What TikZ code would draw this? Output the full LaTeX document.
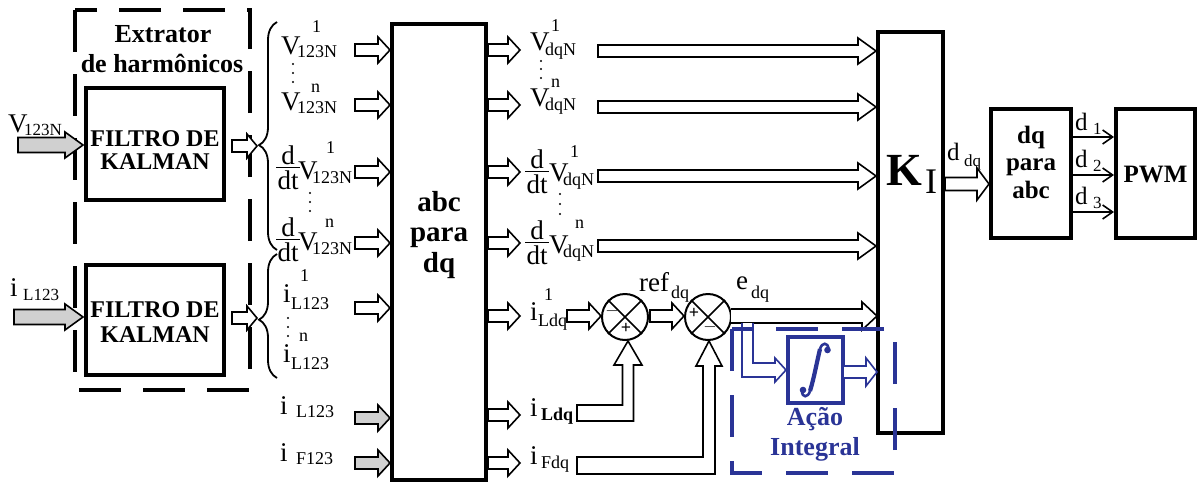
\documentclass[tikz,border=0pt]{standalone}
\usepackage{fontspec}
\setmainfont{Liberation Serif}
\usetikzlibrary{decorations.pathreplacing,arrows.meta}
\definecolor{ablue}{RGB}{42,52,150}
\definecolor{agray}{RGB}{208,208,208}
\newcommand\fs[1]{\fontsize{#1}{#1}\selectfont}
\newcommand\harr[7]{\draw[#1] (#2,#4-#5) -- (#3-#7,#4-#5) -- (#3-#7,#4-#6) -- (#3,#4) -- (#3-#7,#4+#6) -- (#3-#7,#4+#5) -- (#2,#4+#5) -- cycle;}
\newcommand\sarr[4][barrow]{\harr{#1}{#2}{#3}{#4}{6}{13}{12}}
\newcommand\larr[3]{\harr{barrow}{#1}{#2}{#3}{6}{13}{18}}
\newcommand\vdotsat[4]{\fill (#1,#2) circle (1.2); \fill (#1,#3) circle (1.2); \fill (#1,#4) circle (1.2);}
\begin{document}
\begin{tikzpicture}[x=1pt,y=-1pt,
 lbl/.style={font=\fs{27},inner sep=0,anchor=base west},
 sb/.style={font=\fs{18},inner sep=0,anchor=base west},
 cl/.style={font=\fs{27},inner sep=0,anchor=base},
 box/.style={draw, line width=4, fill=white, inner sep=0},
 bt/.style={font=\bfseries\fs{26},inner sep=0,anchor=base},
 btk/.style={font=\bfseries\fs{24},inner sep=0,anchor=base},
 barrow/.style={draw, line width=1.6, fill=white, line join=miter},
 garrow/.style={barrow, fill=agray},
 bluearrow/.style={draw=ablue, line width=1.6, fill=white, line join=miter},
 ext/.style={draw, line width=3.5, dash pattern=on 42pt off 22pt},
 brc/.style={line width=1.8, decorate},
 darr/.style={line width=1.6, -{Straight Barb[length=10pt,width=14pt]}},
]
\useasboundingbox (0,0) rectangle (1197,485);

% ---- harmonic extractor ----
\draw[ext] (75,10) rectangle (250,390);
\node[bt] (ext1) at (163,42) {Extrator};
\node[bt] (ext2) at (162,72) {de harmônicos};

\node[box, minimum width=138, minimum height=112] (kf1) at (155,144) {};
\node[btk] (kf1a) at (155,146) {FILTRO DE};
\node[btk] (kf1b) at (155,169) {KALMAN};
\node[box, minimum width=138, minimum height=110] (kf2) at (155,320) {};
\node[btk] (kf2a) at (155,317) {FILTRO DE};
\node[btk] (kf2b) at (155,342) {KALMAN};

% inputs
\node[lbl] (vin) at (8,132) {V};
\node[sb,font=\fs{17}] (vins) at (24,135) {123N};
\harr{garrow}{18}{83}{145}{7.5}{13}{18}
\node[lbl] (iin) at (10,296) {i};
\node[sb,font=\fs{17}] (iins) at (23,300) {L123};
\harr{garrow}{14}{83}{317}{7.5}{13}{18}

% filter outputs
\harr{barrow}{232}{257}{146}{6}{12}{10}
\harr{barrow}{232}{257}{318}{6}{12}{10}

% braces
\draw[brc, decoration={brace, amplitude=18pt, aspect=0.46}] (277,250) -- (277,22);
\draw[brc, decoration={brace, amplitude=18pt, aspect=0.47}] (277,378) -- (277,254);

% ---- left column labels ----
\node[lbl] (a1) at (281,54) {V};
\node[sb] (a1s) at (297,57) {123N};
\node[sb] (a1p) at (312,32) {1};
\vdotsat{293}{64}{73}{82}
\node[lbl] (a2) at (281,110) {V};
\node[sb] (a2s) at (297,113) {123N};
\node[sb] (a2p) at (311,92) {n};

\node[cl] (a3n) at (288,164) {d};
\node[cl] (a3d) at (288,189) {dt};
\draw[line width=0.9] (276,167) -- (300,167);
\node[lbl] (a3) at (298,179) {V};
\node[sb] (a3s) at (312,183) {123N};
\node[sb] (a3p) at (326,153) {1};
\vdotsat{310}{193}{202}{211}
\node[cl] (a4n) at (288,236) {d};
\node[cl] (a4d) at (288,261) {dt};
\draw[line width=0.9] (276,239) -- (300,239);
\node[lbl] (a4) at (298,250) {V};
\node[sb] (a4s) at (312,254) {123N};
\node[sb] (a4p) at (325,227) {n};

\node[lbl] (a5) at (283,302) {i};
\node[sb] (a5s) at (291,309) {L123};
\node[sb] (a5p) at (300,281) {1};
\vdotsat{288}{318}{327}{336}
\node[lbl] (a6) at (283,362) {i};
\node[sb] (a6s) at (291,369) {L123};
\node[sb] (a6p) at (299,341) {n};
\node[lbl] (a7) at (280,414) {i};
\node[sb] (a7s) at (296,417) {L123};
\node[lbl] (a8) at (280,461) {i};
\node[sb] (a8s) at (296,464) {F123};

\sarr{355}{390}{50}
\sarr{355}{390}{105}
\sarr{355}{390}{172}
\sarr{355}{390}{243}
\sarr{355}{390}{308}
\sarr[garrow]{355}{390}{418}
\sarr[garrow]{355}{390}{463}

% ---- abc para dq ----
\node[box, minimum width=94, minimum height=456] (abc) at (439,252) {};
\node[bt,font=\bfseries\fs{29}] (abct1) at (439,211) {abc};
\node[bt,font=\bfseries\fs{29}] (abct2) at (439,241) {para};
\node[bt,font=\bfseries\fs{29}] (abct3) at (439,272) {dq};

\sarr{488}{520}{50}
\sarr{488}{520}{105}
\sarr{488}{520}{172}
\sarr{488}{520}{243}
\sarr{488}{520}{316}
\sarr{488}{520}{415}
\sarr{488}{520}{463}

% ---- right column labels ----
\node[lbl] (b1) at (530,50) {V};
\node[sb] (b1s) at (545,55) {dqN};
\node[sb] (b1p) at (551,31) {1};
\vdotsat{541}{61}{69}{78}
\node[lbl] (b2) at (530,106) {V};
\node[sb] (b2s) at (545,110) {dqN};
\node[sb] (b2p) at (551,87) {n};

\node[cl] (b3n) at (537,168) {d};
\node[cl] (b3d) at (537,193) {dt};
\draw[line width=0.9] (525,171) -- (549,171);
\node[lbl] (b3) at (549,181) {V};
\node[sb] (b3s) at (563,185) {dqN};
\node[sb] (b3p) at (570,157) {1};
\vdotsat{560}{194}{204}{214}
\node[cl] (b4n) at (537,239) {d};
\node[cl] (b4d) at (537,264) {dt};
\draw[line width=0.9] (525,242) -- (549,242);
\node[lbl] (b4) at (549,253) {V};
\node[sb] (b4s) at (563,257) {dqN};
\node[sb] (b4p) at (575,228) {n};

\node[lbl] (b5) at (530,320) {i};
\node[sb] (b5s) at (538,326) {Ldq};
\node[sb] (b5p) at (544,300) {1};
\node[lbl] (b6) at (530,416) {i};
\node[sb,font=\bfseries\fs{18}] (b6s) at (541,420) {Ldq};
\node[lbl] (b7) at (530,464) {i};
\node[sb] (b7s) at (541,468) {Fdq};

\larr{598}{876}{51}
\larr{598}{876}{107}
\larr{598}{876}{176}
\larr{598}{876}{246}

% ---- K_I ----
\node[box, minimum width=65, minimum height=401] (ki) at (910.5,232.5) {};
\node[font=\bfseries\fs{46},inner sep=0,anchor=base west] (kk) at (886,185) {K};
\node[font=\fs{36},inner sep=0,anchor=base west] (kks) at (925,193) {I};

% ---- summing junctions ----
\node[draw, circle, line width=2, minimum size=46, inner sep=0, fill=white] (s1) at (625,317) {};
\draw[line width=1.6] (s1.north west) -- (s1.south east) (s1.north east) -- (s1.south west);
\node[draw, circle, line width=2, minimum size=46, inner sep=0, fill=white] (s2) at (708,317) {};
\draw[line width=1.6] (s2.north west) -- (s2.south east) (s2.north east) -- (s2.south west);
\node[font=\bfseries\fs{18},inner sep=0] (s1m) at (612,311) {$-$};
\node[font=\bfseries\fs{18},inner sep=0] (s1p) at (626,328) {+};
\node[font=\bfseries\fs{18},inner sep=0] (s2p) at (694,313) {+};
\node[font=\bfseries\fs{18},inner sep=0] (s2m) at (710,327) {$-$};

\sarr{567}{601}{316}
\sarr{650}{684}{316}

\node[lbl] (ref) at (639,291) {ref};
\node[sb] (refs) at (671,298) {dq};
\node[lbl] (edq) at (736,289) {e};
\node[sb] (edqs) at (751,298) {dq};

% bent arrows from i_Ldq and i_Fdq
\draw[barrow] (577,405) -- (622.5,405) -- (622.5,365) -- (614,365) -- (628,341) -- (642,365) -- (633.5,365) -- (633.5,421) -- (577,421) -- cycle;
\draw[barrow] (577,457) -- (703,457) -- (703,366) -- (696,366) -- (709,341) -- (722,366) -- (715,366) -- (715,474) -- (577,474) -- cycle;

% e_dq arrow to K_I
\filldraw[barrow] (731,309) -- (862,309) -- (862,302) -- (877,316) -- (862,330) -- (862,323) -- (731,323);

% ---- integral action ----
\draw[bluearrow] (742,323) -- (742,377) -- (775,377) -- (775,382) -- (786,370) -- (775,358) -- (775,363) -- (753,363) -- (753,323);
\node[draw=ablue, line width=3.5, minimum width=55, minimum height=66, inner sep=0, fill=white] (integ) at (815.5,370) {};
\draw[ablue, line width=4.2] (820,349) .. controls (816,366) and (814,378) .. (810,391);
\draw[ablue, line width=2.6] (820,349) .. controls (822,342) and (828,342) .. (828.5,349);
\draw[ablue, line width=2.6] (810,391) .. controls (808,398) and (802,398) .. (802,391);
\fill[ablue] (827.5,350) circle (3.3);
\fill[ablue] (803,390) circle (3.3);
\draw[bluearrow] (844,366) -- (866,366) -- (866,358) -- (877,372) -- (866,386) -- (866,378) -- (844,378);
\draw[draw=ablue, line width=3.5, dash pattern=on 42pt off 24pt] (732,329) rectangle (895,473);
\node[bt, text=ablue] (acao1) at (815,425) {Ação};
\node[bt, text=ablue] (acao2) at (815,455) {Integral};

% ---- d_dq and dq para abc ----
\node[font=\fs{25},inner sep=0,anchor=base west] (ddq) at (947,160) {d};
\node[font=\fs{17},inner sep=0,anchor=base west] (ddqs) at (964,166) {dq};
\harr{barrow}{945}{989}{184}{6.5}{16}{12}

\node[box, minimum width=80, minimum height=129] (dqabc) at (1031,173.5) {};
\node[bt,font=\bfseries\fs{25}] (dq1) at (1031,143) {dq};
\node[bt,font=\bfseries\fs{25}] (dq2) at (1031,170) {para};
\node[bt,font=\bfseries\fs{25}] (dq3) at (1031,198) {abc};

\node[box, minimum width=79, minimum height=129] (pwm) at (1155.5,173.5) {};
\node[bt,font=\bfseries\fs{25}] (pwmt) at (1155.5,182) {PWM};

\draw[darr] (1071,137) -- (1114,137);
\draw[darr] (1071,175) -- (1114,175);
\draw[darr] (1071,212) -- (1114,212);
\node[font=\fs{25},inner sep=0,anchor=base west] (d1) at (1075,130) {d};
\node[font=\fs{17},inner sep=0,anchor=base west] (d1s) at (1093,134) {1};
\node[font=\fs{25},inner sep=0,anchor=base west] (d2) at (1075,167) {d};
\node[font=\fs{17},inner sep=0,anchor=base west] (d2s) at (1093,171) {2};
\node[font=\fs{25},inner sep=0,anchor=base west] (d3) at (1075,204) {d};
\node[font=\fs{17},inner sep=0,anchor=base west] (d3s) at (1093,208) {3};
\end{tikzpicture}
\end{document}
